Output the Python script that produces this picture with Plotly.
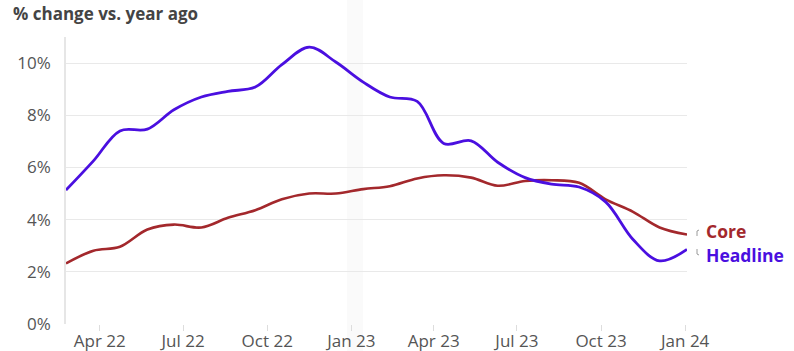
import plotly.graph_objects as go

# Observation dates (one reading per period)
dates = [
    "2022-02-23", "2022-03-25", "2022-04-23", "2022-05-23", "2022-06-21", "2022-07-21",
    "2022-08-19", "2022-09-18", "2022-10-17", "2022-11-16", "2022-12-15", "2023-01-14",
    "2023-02-12", "2023-03-14", "2023-04-12", "2023-05-12", "2023-06-10", "2023-07-10",
    "2023-08-08", "2023-09-07", "2023-10-06", "2023-11-05", "2023-12-04", "2024-01-03",
]

# Year-over-year % change
headline = [
    5.13, 6.25, 7.40, 7.47, 8.21, 8.70, 8.92, 9.08, 9.94, 10.61, 10.04, 9.27,
    8.70, 8.53, 6.92, 7.02, 6.20, 5.61, 5.36, 5.25, 4.68, 3.24, 2.42, 2.86,
]
core = [
    2.32, 2.81, 2.96, 3.62, 3.81, 3.70, 4.07, 4.36, 4.78, 5.00, 5.00, 5.17,
    5.28, 5.58, 5.70, 5.61, 5.30, 5.48, 5.51, 5.41, 4.78, 4.30, 3.70, 3.43,
]

y_ticks = [0, 2, 4, 6, 8, 10]
y_tick_text = ["0%", "2%", "4%", "6%", "8%", "10%"]
x_ticks = ["2022-04-01", "2022-07-01", "2022-10-01", "2023-01-01",
           "2023-04-01", "2023-07-01", "2023-10-01", "2024-01-01"]
x_tick_text = ["Apr 22", "Jul 22", "Oct 22", "Jan 23",
               "Apr 23", "Jul 23", "Oct 23", "Jan 24"]

HEADLINE_COLOR = "#4a0fe0"
CORE_COLOR = "#a3282c"
FONT = "Open Sans"

fig = go.Figure()
fig.add_trace(go.Scatter(
    x=dates, y=core, mode="lines", name="Core",
    line=dict(color=CORE_COLOR, width=2.6, shape="spline", smoothing=1.0),
    cliponaxis=False, hoverinfo="skip",
))
fig.add_trace(go.Scatter(
    x=dates, y=headline, mode="lines", name="Headline",
    line=dict(color=HEADLINE_COLOR, width=2.8, shape="spline", smoothing=1.0),
    cliponaxis=False, hoverinfo="skip",
))

# Pixel-to-paper helpers for the end labels and leader marks
L, R, T, B = 66, 687, 37, 324
def px_x(px):
    return (px - L) / (R - L)
def px_y(py):
    return (B - py) / (B - T)

annotations = [
    dict(text="% change vs. year ago", xref="paper", yref="paper",
         x=px_x(11), y=px_y(14), xanchor="left", yanchor="middle", showarrow=False,
         font=dict(family=FONT, size=17, color="#444444", weight="bold")),
    dict(text="Core", xref="paper", yref="paper", x=px_x(704), y=px_y(230.5),
         xanchor="left", yanchor="middle", showarrow=False,
         font=dict(family=FONT, size=17.5, color=CORE_COLOR, weight="bold")),
    dict(text="Headline", xref="paper", yref="paper", x=px_x(704), y=px_y(254.5),
         xanchor="left", yanchor="middle", showarrow=False,
         font=dict(family=FONT, size=17.5, color=HEADLINE_COLOR, weight="bold")),
]

shapes = [
    # faint vertical band around the turn of the year
    dict(type="rect", xref="paper", yref="paper", x0=px_x(347), x1=px_x(363),
         y0=px_y(351), y1=px_y(0), fillcolor="rgba(0,0,0,0.018)", line_width=0,
         layer="below"),
    # small leader marks between the line ends and their labels
    dict(type="path", xref="paper", yref="paper",
         path=f"M {px_x(697)},{px_y(236)} L {px_x(697)},{px_y(231)} L {px_x(699)},{px_y(230)}",
         line=dict(color="#9a9a9a", width=1)),
    dict(type="path", xref="paper", yref="paper",
         path=f"M {px_x(697)},{px_y(249)} L {px_x(697)},{px_y(254)} L {px_x(699)},{px_y(255)}",
         line=dict(color="#9a9a9a", width=1)),
]

fig.update_layout(
    width=794, height=351,
    margin=dict(l=L, r=794 - R, t=T, b=351 - B),
    paper_bgcolor="white", plot_bgcolor="white",
    showlegend=False,
    font=dict(family=FONT, color="#555555"),
    annotations=annotations,
    shapes=shapes,
)
fig.update_xaxes(
    type="date", range=[dates[0], dates[-1]],
    tickvals=x_ticks, ticktext=x_tick_text,
    showgrid=False, zeroline=False, showline=False,
    ticks="outside", ticklen=6, tickcolor="#dddddd", tickwidth=1,
    ticklabelstandoff=-4,
    tickfont=dict(family=FONT, size=17, color="#555555"),
    automargin=False,
)
fig.update_yaxes(
    range=[0, 11], tickvals=y_ticks, ticktext=y_tick_text,
    showgrid=True, gridcolor="#e9e9e9", gridwidth=1,
    zeroline=False, showline=True, linecolor="#e6e6e6", linewidth=1.5,
    ticks="", ticklabelstandoff=10,
    tickfont=dict(family=FONT, size=17, color="#555555"),
    automargin=False,
)

fig.write_html("out.html")
